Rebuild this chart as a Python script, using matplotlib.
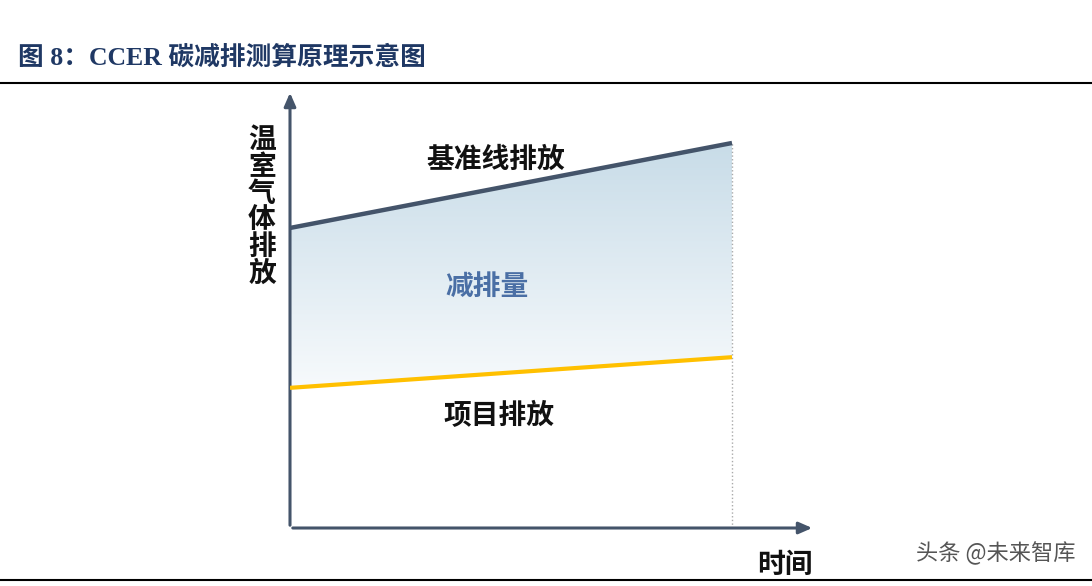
import numpy as np
import matplotlib
matplotlib.use("Agg")
import matplotlib.pyplot as plt
from matplotlib.patches import Polygon
from matplotlib.colors import LinearSegmentedColormap

plt.rcParams['font.family'] = ['Noto Sans CJK SC', 'DejaVu Sans']

time = [0, 10]
baseline = [68.5, 87.9]
project = [32.0, 39.0]

W, H = 1092, 586
fig = plt.figure(figsize=(W/100, H/100), dpi=100)
fig.patch.set_facecolor('white')

ax = fig.add_axes([290/W, (H-528)/H, (815-290)/W, (528-90)/H])
ax.set_xlim(0, 10*525/442)
ax.set_ylim(0, 100)
ax.axis('off')

axc = '#44546a'
ax.annotate('', xy=(1, 0), xytext=(0, 0), xycoords='axes fraction',
            arrowprops=dict(arrowstyle='-|>,head_length=0.8,head_width=0.35', color=axc, lw=2.2))
ax.annotate('', xy=(0, 1), xytext=(0, 0), xycoords='axes fraction',
            arrowprops=dict(arrowstyle='-|>,head_length=0.8,head_width=0.35', color=axc, lw=2.2))

poly = Polygon([(time[0], project[0]), (time[1], project[1]), (time[1], baseline[1]), (time[0], baseline[0])],
               closed=True, facecolor='none', edgecolor='none')
ax.add_patch(poly)
grad = np.linspace(0, 1, 256).reshape(-1, 1)
cmap = LinearSegmentedColormap.from_list('g', ['#f7fafc', '#c8dce8'])
im = ax.imshow(grad, cmap=cmap, aspect='auto', origin='lower',
               extent=[time[0], time[1], min(project), max(baseline)], zorder=1)
im.set_clip_path(poly)

ax.plot(time, baseline, color=axc, lw=3.2, zorder=3, solid_capstyle='butt')
ax.plot(time, project, color='#ffc000', lw=3, zorder=3, solid_capstyle='butt')
ax.plot([time[1], time[1]], [0, baseline[1]], color='#aaaaaa', lw=1, ls=':', zorder=2)

fs = 20
ax.text(4.66, 84, '基准线排放', fontsize=fs, fontweight='bold', ha='center', va='center', color='#111111')
ax.text(4.45, 55, '减排量', fontsize=fs, fontweight='bold', ha='center', va='center', color='#4a6fa5')
ax.text(4.73, 25.6, '项目排放', fontsize=fs, fontweight='bold', ha='center', va='center', color='#111111')

fig.text(262/W, 1-207/H, '温\n室\n气\n体\n排\n放', fontsize=fs, fontweight='bold', ha='center', va='center',
         linespacing=0.95, color='#111111')
fig.text(785/W, 1-565/H, '时间', fontsize=fs, fontweight='bold', ha='center', va='center', color='#111111')

fig.text(18/W, 1-57/H, '图 8：CCER 碳减排测算原理示意图', fontsize=18.5, fontweight='bold',
         ha='left', va='center', color='#1f3864', family=['Liberation Serif', 'Noto Sans CJK SC'])
fig.add_artist(plt.Line2D([0, 1], [1-83/H, 1-83/H], color='black', lw=1.5))
fig.add_artist(plt.Line2D([0, 1], [1-580/H, 1-580/H], color='black', lw=1.5))
fig.text(1075/W, 1-553/H, '头条 @未来智库', fontsize=16, ha='right', va='center', color='#555555')

fig.savefig('out.png', dpi=100)
